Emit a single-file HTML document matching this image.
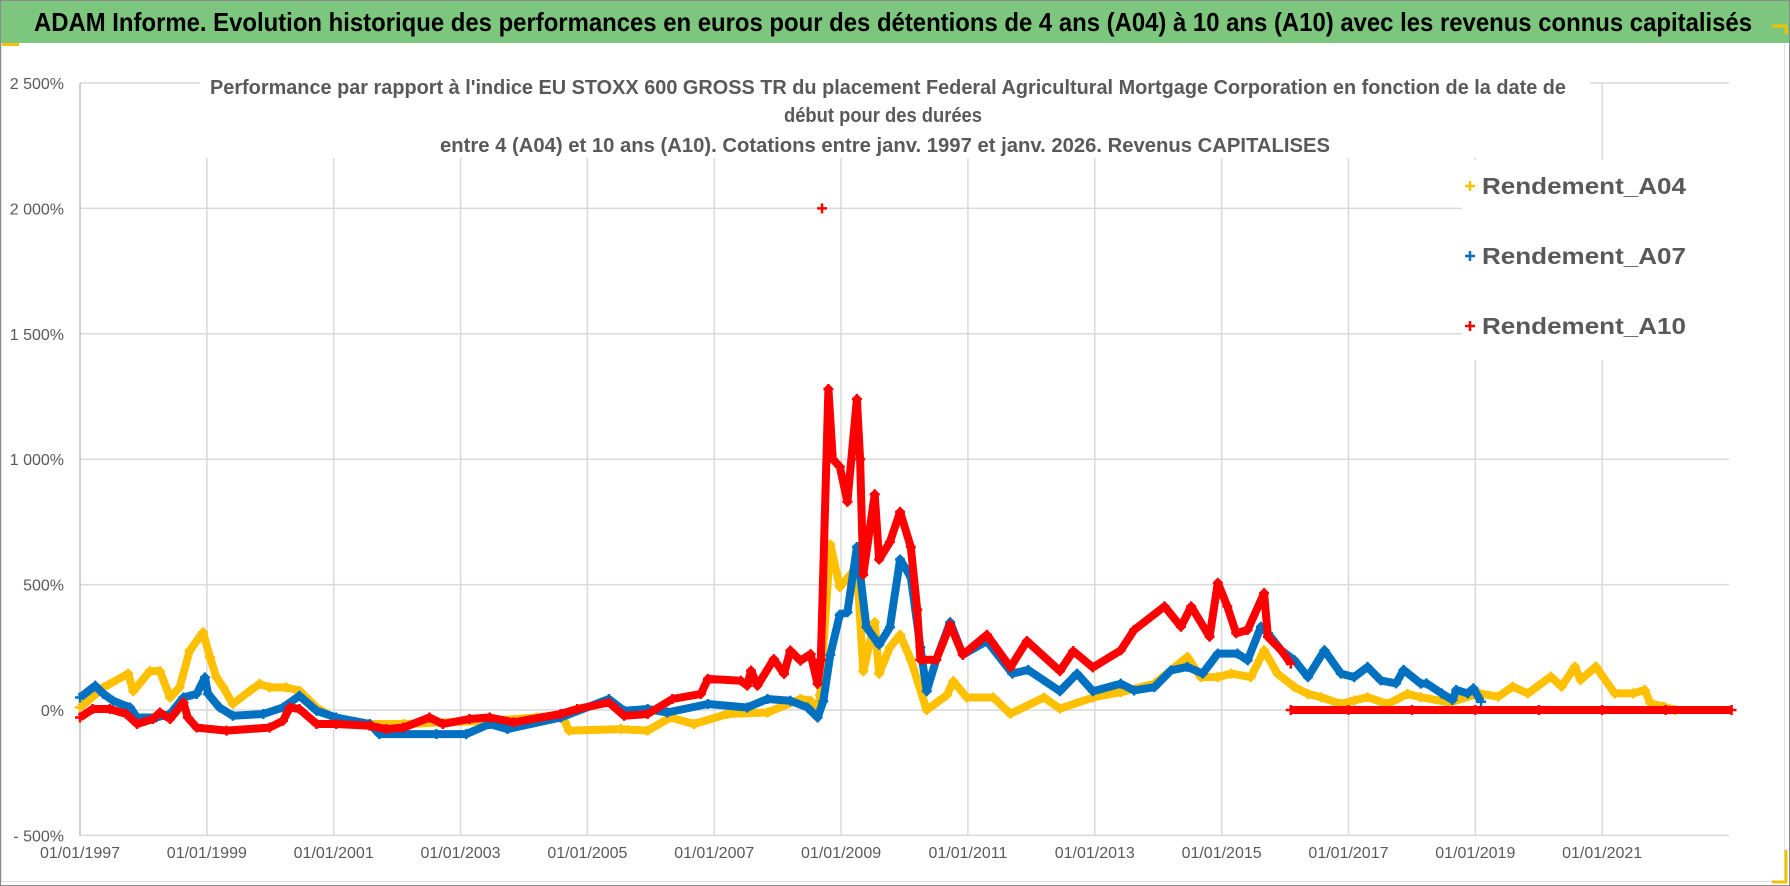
<!DOCTYPE html>
<html><head><meta charset="utf-8"><style>
html,body{margin:0;padding:0;background:#fff;}
svg{display:block;font-family:"Liberation Sans Narrow","Liberation Sans",sans-serif;}
</style></head><body>
<svg id="chart" width="1790" height="886" viewBox="0 0 1790 886">
<rect x="0.5" y="0.5" width="1789" height="885" fill="#fff" stroke="#8a8a8a"/>
<rect x="1" y="1" width="1788" height="42" fill="#7dc67e"/>
<rect x="1" y="43" width="18" height="3" fill="#f2c200"/>
<rect x="1.5" y="27.5" width="1783" height="854" fill="none" stroke="#e0e0e0"/>
<rect x="1" y="1" width="1788" height="42" fill="#7dc67e"/>
<path d="M1772 26h14v8" fill="none" stroke="#f2c200" stroke-width="3"/>
<path d="M1786 850v32h-14" fill="none" stroke="#f2c200" stroke-width="3"/>
<text x="893" y="31" text-anchor="middle" font-size="26" font-weight="bold" fill="#000" textLength="1718" lengthAdjust="spacingAndGlyphs">ADAM Informe. Evolution historique des performances en euros pour des détentions de 4 ans (A04) à 10 ans (A10) avec les revenus connus capitalisés</text>
<g id="grid"></g>
<rect x="200" y="68" width="1390" height="90" fill="#fff"/>
<g fill="#595959" font-weight="bold" font-size="20" text-anchor="middle">
<text x="888" y="94" textLength="1356" lengthAdjust="spacingAndGlyphs">Performance par rapport à l'indice EU STOXX 600 GROSS TR  du placement Federal Agricultural Mortgage Corporation en fonction de la date de</text>
<text x="883" y="122" textLength="198" lengthAdjust="spacingAndGlyphs">début pour des durées</text>
<text x="885" y="152" textLength="890" lengthAdjust="spacingAndGlyphs">entre 4 (A04) et 10 ans (A10). Cotations entre janv. 1997 et janv. 2026. Revenus CAPITALISES</text>
</g>
<g id="series"></g>
<g id="legend">
<rect x="1462" y="160" width="296" height="200" fill="#fff"/>
</g>
</svg>
<script>
const NS='http://www.w3.org/2000/svg';
const years=[1999,2001,2003,2005,2007,2009,2011,2013,2015,2017,2019,2021];
const xLabels=['01/01/1997','01/01/1999','01/01/2001','01/01/2003','01/01/2005','01/01/2007','01/01/2009','01/01/2011','01/01/2013','01/01/2015','01/01/2017','01/01/2019','01/01/2021'];
const yTicks=[-500,0,500,1000,1500,2000,2500];
const yTickLabels=['- 500%','0%','500%','1 000%','1 500%','2 000%','2 500%'];
const seriesNames=['Rendement_A04','Rendement_A07','Rendement_A10'];
const datesA04=[1997,1997.37,1997.76,1997.84,1998.1,1998.26,1998.42,1998.57,1998.73,1998.94,1999.05,1999.15,1999.26,1999.41,1999.68,1999.83,1999.99,2000.25,2000.46,2000.73,2000.99,2001.57,2002.1,2003.46,2004.2,2004.6,2004.71,2005.53,2005.95,2006.31,2006.68,2007.21,2007.84,2008.36,2008.52,2008.63,2008.67,2008.83,2008.98,2009.25,2009.35,2009.53,2009.6,2009.77,2009.93,2010.1,2010.35,2010.67,2010.77,2010.98,2011.4,2011.67,2012.2,2012.45,2012.97,2013.41,2013.94,2014.46,2014.67,2014.94,2015.15,2015.46,2015.67,2015.88,2016.15,2016.36,2016.57,2016.88,2017.09,2017.3,2017.62,2017.93,2018.14,2018.6,2019.06,2019.36,2019.59,2019.83,2020.19,2020.36,2020.57,2020.66,2020.9,2021.2,2021.49,2021.67,2021.76,2021.97,2022.15];
const valsA04=[10,90,145,75,155,155,50,90,237,310,210,130,90,24,77,104,90,90,77,10,-30,-56,-56,-43,-30,-20,-82,-76,-82,-30,-56,-16,-10,44,37,-16,60,660,490,570,155,350,145,250,300,200,0,60,115,50,50,-15,50,5,50,71,105,212,131,131,145,131,238,145,91,64,51,24,38,51,24,64,51,30,66,53,93,66,133,93,173,120,173,66,66,80,27,13,0];
const datesA07=[1997,1997.24,1997.37,1997.52,1997.79,1997.9,1998.2,1998.42,1998.63,1998.84,1998.97,1999.02,1999.2,1999.41,1999.89,2000.2,2000.46,2000.73,2001.04,2001.57,2001.72,2002.62,2003.09,2003.46,2003.74,2004.58,2005.34,2005.58,2005.95,2006.26,2006.9,2007.52,2007.84,2008.2,2008.47,2008.63,2008.72,2008.83,2008.98,2009.1,2009.25,2009.4,2009.6,2009.77,2009.93,2010.1,2010.25,2010.35,2010.5,2010.72,2010.92,2011.3,2011.7,2011.95,2012.45,2012.72,2012.97,2013.41,2013.62,2013.94,2014.2,2014.46,2014.7,2014.94,2015.25,2015.41,2015.62,2015.73,2015.94,2016.15,2016.36,2016.62,2016.88,2017.09,2017.3,2017.51,2017.75,2017.87,2018.14,2018.23,2018.47,2018.64,2018.7,2018.88,2018.97,2019.09];
const valsA07=[50,97,64,37,10,-30,-30,-16,50,64,130,64,10,-23,-16,10,57,-3,-30,-56,-96,-96,-96,-56,-76,-30,44,-3,4,-10,24,10,44,37,10,-30,35,220,380,390,650,330,260,330,600,530,250,75,200,350,220,275,145,160,75,145,75,105,78,91,158,172,145,225,225,198,332,306,238,198,131,238,145,131,172,118,106,160,105,106,66,40,80,66,86,33];
const datesA10=[1997,1997.2,1997.47,1997.73,1997.9,1998.15,1998.26,1998.42,1998.63,1998.7,1998.84,1999.31,1999.99,2000.2,2000.31,2000.46,2000.73,2001.04,2001.57,2001.83,2002.1,2002.51,2002.72,2003.14,2003.46,2003.84,2004.58,2004.84,2005.34,2005.58,2005.95,2006.34,2006.79,2006.9,2007.42,2007.52,2007.58,2007.68,2007.94,2008.1,2008.2,2008.36,2008.52,2008.63,2008.68,2008.8,2008.87,2008.98,2009.1,2009.25,2009.3,2009.35,2009.53,2009.6,2009.77,2009.93,2010.1,2010.2,2010.25,2010.5,2010.72,2010.92,2011.3,2011.67,2011.93,2012.45,2012.66,2012.97,2013.41,2013.62,2014.1,2014.36,2014.52,2014.81,2014.94,2015.09,2015.23,2015.41,2015.67,2015.73,2015.94,2016.09];
const valsA10=[-30,4,4,-16,-56,-36,-10,-36,30,-30,-70,-82,-70,-43,10,4,-56,-56,-63,-76,-70,-30,-56,-36,-30,-49,-16,4,30,-23,-16,44,64,124,117,97,157,97,203,144,237,197,223,104,200,1280,1000,970,830,1240,1000,540,860,600,670,790,650,400,200,200,340,220,300,170,275,155,235,170,238,319,413,332,413,292,507,413,306,319,466,292,238,185];
const datesA10flat=[2016.09,2017,2018,2019,2020,2021,2022,2023.04];
const valsA10flat=[0,0,0,0,0,0,0,0];
const outlierDate=[2008.7];const outlierVal=[2000];
const X0=80,X1=1729,Y0=710,PX=125.4/500;
const xs=d=>X0+(d-1997)*(X1-X0)/26;
const ys=v=>Y0-v*PX;
const grid=document.getElementById('grid');
function mk(t,a,p){const e=document.createElementNS(NS,t);for(const k in a)e.setAttribute(k,a[k]);(p||grid).appendChild(e);return e;}
yTicks.forEach((v,i)=>{
 const l=mk('line',{x1:X0,x2:X1,y1:ys(v),y2:ys(v),stroke:'#d9d9d9','stroke-width':1.5});
 
 
 const t=mk('text',{x:64,y:ys(v)+6,'text-anchor':'end','font-size':16,fill:'#595959'});
 t.textContent=yTickLabels[i];
 
 
});
years.forEach(y=>{
 const l=mk('line',{x1:xs(y),x2:xs(y),y1:ys(2500),y2:ys(-500),stroke:'#d9d9d9','stroke-width':1.5});
 
 
});
const ax=mk('line',{x1:X0,x2:X0,y1:ys(2500),y2:ys(-500),stroke:'#bfbfbf','stroke-width':1.5});


xLabels.forEach((s,i)=>{
 const t=mk('text',{x:xs(1997+2*i),y:858,'text-anchor':'middle','font-size':16,fill:'#595959'});
 t.textContent=s;
 
 
});
const sg=document.getElementById('series');
function plus(cx,cy,c,g){mk('path',{d:`M${cx-5} ${cy}h10M${cx} ${cy-5}v10`,stroke:c,'stroke-width':2.5},g);}
function draw(ds,vs,c,name){
 const g=mk('g',{},sg);
 
 
 const pts=ds.map((d,i)=>xs(d).toFixed(1)+','+ys(vs[i]).toFixed(1)).join(' ');
 mk('polyline',{points:pts,fill:'none',stroke:c,'stroke-width':8,'stroke-linejoin':'round'},g);
 ds.forEach((d,i)=>plus(xs(d),ys(vs[i]),c,g));
}
draw(datesA04,valsA04,'#ffc000','series-a04');
draw(datesA07,valsA07,'#0070c0','series-a07');
draw(datesA10,valsA10,'#ff0000','series-a10');
draw(datesA10flat,valsA10flat,'#ff0000','series-a10-zero');
const og=mk('g',{},sg);


plus(xs(outlierDate[0]),ys(outlierVal[0]),'#ff0000',og);
const lg=document.getElementById('legend');
const cols=['#ffc000','#0070c0','#ff0000'];
seriesNames.forEach((n,i)=>{
 const y=186+i*70;
 const e=mk('g',{},lg);
 
 
 plus(1470,y,cols[i],e);
 const t=mk('text',{x:1482,y:y+8,'font-size':23,'font-weight':'bold',fill:'#595959',textLength:204,lengthAdjust:'spacingAndGlyphs'},e);
 t.textContent=n;
});
</script>
</body></html>
